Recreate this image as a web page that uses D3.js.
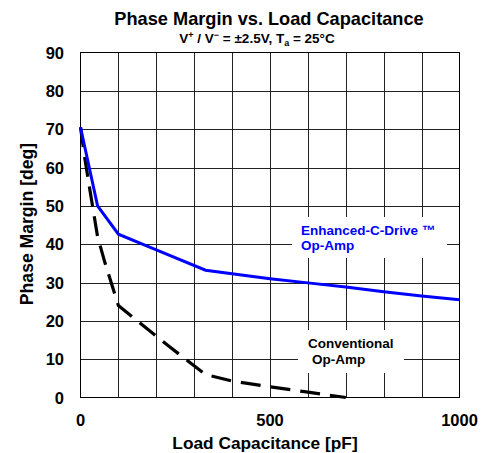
<!DOCTYPE html>
<html><head><meta charset="utf-8">
<script src="https://cdn.jsdelivr.net/npm/d3@7"></script>
<style>body{margin:0;background:#fff}svg{display:block;font-family:"Liberation Sans",Arial,sans-serif;font-weight:bold}</style>
</head><body>
<svg id="c" width="481" height="453"></svg>
<script>
const xTicks = [0, 500, 1000];
const yTicks = [0, 10, 20, 30, 40, 50, 60, 70, 80, 90];
const enhancedCap = [0, 45, 100, 200, 330, 500, 600, 700, 800, 900, 1000];
const enhancedPM  = [70.5, 50, 42.6, 38.5, 33.2, 31, 29.9, 28.8, 27.6, 26.5, 25.5];
const convCap = [0, 12, 25, 45, 65, 100, 150, 230, 330, 400, 500, 600, 700];
const convPM  = [70.5, 62, 54, 42, 35, 24, 20, 13.6, 6, 4.3, 2.8, 1.4, 0];

const svg = d3.select("#c");
const L = 80.5, R = 459.5, T = 52.5, B = 397.5;
const x = d3.scaleLinear().domain([0, 1000]).range([L, R]);
const y = d3.scaleLinear().domain([0, 90]).range([B, T]);

// grid
const g = svg.append("g");
g.selectAll(".v").data(d3.range(100, 1000, 100)).enter().append("line")
  .attr("x1", d => Math.round(x(d)) + 0.5).attr("x2", d => Math.round(x(d)) + 0.5)
  .attr("y1", T).attr("y2", B).attr("stroke", "#222").attr("stroke-width", 1);
g.selectAll(".h").data(d3.range(10, 90, 10)).enter().append("line")
  .attr("y1", d => Math.round(y(d)) + 0.5).attr("y2", d => Math.round(y(d)) + 0.5)
  .attr("x1", L).attr("x2", R).attr("stroke", "#222").attr("stroke-width", 1);

// label backgrounds
svg.append("rect").attr("x", 292).attr("y", 217).attr("width", 155).attr("height", 41).attr("fill", "#fff");
svg.append("rect").attr("x", 298).attr("y", 330).attr("width", 106).attr("height", 43).attr("fill", "#fff");

// frame
svg.append("rect").attr("x", L).attr("y", T).attr("width", R - L).attr("height", B - T)
  .attr("fill", "none").attr("stroke", "#000").attr("stroke-width", 1);

const line = d3.line().x(d => x(d[0])).y(d => y(d[1]));
svg.append("path").datum(convCap.map((c, i) => [c, convPM[i]]))
  .attr("d", line).attr("fill", "none").attr("stroke", "#000").attr("stroke-width", 3.2)
  .attr("stroke-dasharray", "20,10");
svg.append("path").datum(enhancedCap.map((c, i) => [c, enhancedPM[i]]))
  .attr("d", line).attr("fill", "none").attr("stroke", "#0000ff").attr("stroke-width", 3);

// axes labels
svg.append("g").selectAll("text").data(yTicks).enter().append("text")
  .attr("x", 64).attr("y", d => y(d) + 6).attr("text-anchor", "end")
  .attr("font-size", 16.5).text(d => d);
svg.append("g").selectAll("text").data(xTicks).enter().append("text")
  .attr("x", d => x(d)).attr("y", 426).attr("text-anchor", "middle")
  .attr("font-size", 16.5).text(d => d);

svg.append("text").attr("x", 265).attr("y", 449).attr("text-anchor", "middle")
  .attr("font-size", 17.3).text("Load Capacitance [pF]");
svg.append("text").attr("transform", "translate(33,224) rotate(-90)").attr("text-anchor", "middle")
  .attr("font-size", 17.6).text("Phase Margin [deg]");

// title
svg.append("text").attr("x", 269).attr("y", 25).attr("text-anchor", "middle")
  .attr("font-size", 18.2).text("Phase Margin vs. Load Capacitance");
const sub = svg.append("text").attr("x", 257).attr("y", 43).attr("text-anchor", "middle").attr("font-size", 13.5);
sub.append("tspan").text("V");
sub.append("tspan").attr("font-size", 9).attr("dy", -5).text("+");
sub.append("tspan").attr("dy", 5).text(" / V");
sub.append("tspan").attr("font-size", 9).attr("dy", -5).text("\u2212");
sub.append("tspan").attr("dy", 5).text(" = \u00b12.5V, T");
sub.append("tspan").attr("font-size", 9).attr("dy", 3).text("a");
sub.append("tspan").attr("dy", -3).text(" = 25\u00b0C");

// series labels
svg.append("text").attr("x", 301).attr("y", 235).attr("fill", "#0000ff").attr("font-size", 13.5).text("Enhanced-C-Drive \u2122");
svg.append("text").attr("x", 301).attr("y", 250).attr("fill", "#0000ff").attr("font-size", 13.5).text("Op-Amp");
svg.append("text").attr("x", 308).attr("y", 348).attr("fill", "#000").attr("font-size", 13.5).text("Conventional");
svg.append("text").attr("x", 312).attr("y", 364).attr("fill", "#000").attr("font-size", 13.5).text("Op-Amp");
</script>
</body></html>
